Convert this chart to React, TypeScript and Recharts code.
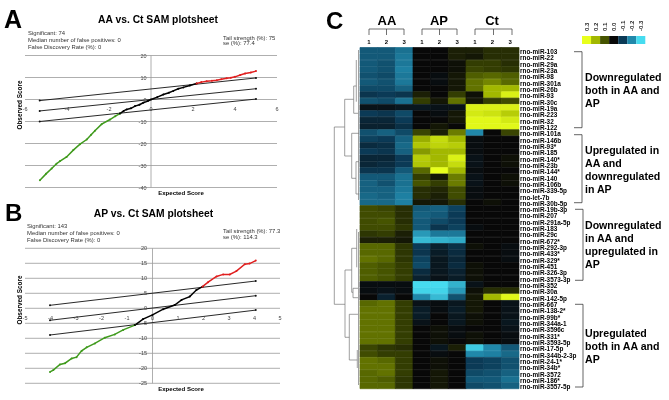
import { Bar, BarChart, CartesianGrid, Cell, Line, LineChart, ReferenceLine, XAxis, YAxis } from 'recharts'

const FONT = '"Liberation Sans", Arial, sans-serif'
type Pair = number[]

// panel A
const aaXTicks = [-6, -4, -2, 0, 2, 4, 6]
const aaYTicks = [-40, -30, -20, -10, 0, 10, 20]
const aaLow: Pair[] = [[-5.29, -36.7], [-5.0, -33.8], [-4.73, -31.4], [-4.5, -29.2], [-4.33, -28], [-4.02, -26.1], [-3.7, -23], [-3.38, -20.3], [-3.06, -18.2], [-2.85, -16], [-2.67, -14.2], [-2.35, -11.2], [-1.95, -9.1], [-1.7, -7.6], [-1.48, -6.4]]
const aaMid: Pair[] = [[-1.48, -6.4], [-1.3, -5.2], [-1.16, -4.5], [-0.95, -4], [-0.76, -3], [-0.55, -2.4], [-0.37, -1.5], [-0.15, -0.7], [0, 0], [0.3, 1.1], [0.59, 2.3], [0.85, 3.1], [1.06, 3.9], [1.3, 4.9], [1.54, 5.5], [1.85, 6.4], [2.17, 7.3]]
const aaHigh: Pair[] = [[2.17, 7.3], [2.4, 7.9], [2.65, 8.3], [2.9, 8.5], [3.13, 8.8], [3.35, 9.2], [3.6, 9.7], [3.8, 9.9], [4, 10.3], [4.25, 11.1], [4.48, 11.8], [4.75, 12.3], [5, 12.9]]
const aaCutoffs: Pair[][] = [
  [[-5.3, -0.5], [5, 9.8]],
  [[-5.3, -5.2], [5, 4.9]],
  [[-5.3, -10], [5, 0.2]],
]

// panel B
const apXTicks = [-5, -4, -3, -2, -1, 0, 1, 2, 3, 4, 5]
const apYTicks = [-25, -20, -15, -10, -5, 0, 5, 10, 15, 20]
const apLow: Pair[] = [[-4.02, -21.2], [-3.89, -20.6], [-3.63, -18.7], [-3.43, -18.3], [-3.17, -16.7], [-2.98, -16.3], [-2.78, -14.2], [-2.58, -13], [-2.26, -11.7], [-1.87, -9.8], [-1.48, -8.7], [-1.15, -7.2], [-0.69, -5.6]]
const apMid: Pair[] = [[-0.69, -5.6], [-0.37, -3.6], [0, -2.2], [0.42, -0.3], [0.87, 1.1], [1.14, 2.8], [1.46, 3.9], [1.72, 6.1], [1.96, 7.2]]
const apHigh: Pair[] = [[1.96, 7.2], [2.18, 8.7], [2.51, 10.6], [2.77, 11.3], [3.03, 11.3], [3.29, 12.4], [3.62, 14.7], [3.81, 14.9], [4.05, 15.9]]
const apCutoffs: Pair[][] = [
  [[-4.02, 1], [4.05, 9.1]],
  [[-4.02, -4], [4.05, 4.2]],
  [[-4.02, -8.9], [4.05, -0.6]],
]

// panel C
const mirNames = [
  'rno-miR-103', 'rno-miR-22', 'rno-miR-29a', 'rno-miR-23a', 'rno-miR-98', 'rno-miR-301a', 'rno-miR-26b', 'rno-miR-93', 'rno-miR-30c', 'rno-miR-19a', 'rno-miR-223', 'rno-miR-32', 'rno-miR-122',
  'rno-miR-101a', 'rno-miR-146b', 'rno-miR-93*', 'rno-miR-185', 'rno-miR-140*', 'rno-miR-23b', 'rno-miR-144*', 'rno-miR-140', 'rno-miR-106b', 'rno-miR-339-5p', 'rno-let-7b', 'rno-miR-30b-5p',
  'rno-miR-19b-3p', 'rno-miR-207', 'rno-miR-291a-5p', 'rno-miR-183', 'rno-miR-29c', 'rno-miR-672*', 'rno-miR-292-3p', 'rno-miR-433*', 'rno-miR-329*', 'rno-miR-451', 'rno-miR-326-3p', 'rno-miR-3573-3p',
  'rno-miR-352', 'rno-miR-30a', 'rno-miR-142-5p',
  'rno-miR-667', 'rno-miR-138-2*', 'rno-miR-99b*', 'rno-miR-344a-1', 'rno-miR-3596c', 'rno-miR-331*', 'rno-miR-3593-5p', 'rno-miR-17-5p', 'rno-miR-344b-2-3p', 'rno-miR-24-1*', 'rno-miR-34b*', 'rno-miR-3572', 'rno-miR-186*', 'rno-miR-3557-5p',
]
const aaHeat = [
  [-0.14, -0.14, -0.17], [-0.14, -0.14, -0.18], [-0.14, -0.13, -0.18], [-0.14, -0.13, -0.19], [-0.13, -0.12, -0.18], [-0.14, -0.13, -0.18], [-0.12, -0.12, -0.15], [-0.09, -0.1, -0.09], [-0.13, -0.12, -0.17], [-0.02, -0.02, -0.03], [-0.1, -0.09, -0.12], [-0.06, -0.06, -0.1], [-0.05, -0.05, -0.08],
  [-0.13, -0.15, -0.12], [-0.11, -0.1, -0.15], [-0.07, -0.08, -0.16], [-0.1, -0.09, -0.15], [-0.06, -0.06, -0.1], [-0.06, -0.07, -0.1], [-0.09, -0.09, -0.14], [-0.14, -0.14, -0.17], [-0.15, -0.13, -0.17], [-0.15, -0.15, -0.18], [-0.16, -0.15, -0.19], [-0.16, -0.16, -0.19],
  [0.09, 0.08, 0.05], [0.09, 0.09, 0.05], [0.09, 0.1, 0.05], [0.09, 0.09, 0.06], [0.06, 0.07, 0.03], [0.03, 0.03, 0.02], [0.12, 0.12, 0.06], [0.12, 0.12, 0.06], [0.13, 0.12, 0.06], [0.11, 0.1, 0.07], [0.11, 0.1, 0.07], [0.11, 0.1, 0.07],
  [-0.01, -0.01, -0.01], [-0.01, -0.02, -0.01], [0, -0.05, 0],
  [0.12, 0.13, 0.07], [0.13, 0.13, 0.07], [0.13, 0.13, 0.07], [0.13, 0.13, 0.07], [0.13, 0.13, 0.07], [0.13, 0.13, 0.07], [0.13, 0.13, 0.07], [0.08, 0.06, 0.05], [0.09, 0.07, 0.07], [0.13, 0.12, 0.07], [0.13, 0.13, 0.07], [0.12, 0.13, 0.07], [0.12, 0.11, 0.06], [0.12, 0.12, 0.06],
]
const apHeat = [
  [0, 0, 0.03], [0, 0, 0.03], [0, 0, 0.01], [0, 0, 0.01], [0, -0.01, 0.02], [0, -0.01, 0.02], [0, 0, 0.02], [0.03, 0, 0.07], [0.07, 0.02, 0.13], [-0.03, -0.02, -0.02], [0, -0.01, 0.02], [0, 0, 0.02], [0, 0.02, 0],
  [0.08, 0.03, 0.14], [0.19, 0.25, 0.2], [0.22, 0.24, 0.23], [0.17, 0.2, 0.2], [0.23, 0.2, 0.28], [0.22, 0.2, 0.25], [0.12, 0.3, 0.2], [0.07, 0.02, 0.14], [0.1, 0.07, 0.14], [0.05, 0.04, 0.09], [0.05, 0.03, 0.09], [0.02, 0.02, 0.05],
  [-0.14, -0.15, -0.11], [-0.15, -0.14, -0.1], [-0.14, -0.12, -0.1], [-0.14, -0.09, -0.11], [-0.22, -0.18, -0.18], [-0.26, -0.25, -0.24], [-0.1, -0.05, -0.08], [-0.09, -0.04, -0.07], [-0.11, -0.03, -0.06], [-0.12, -0.03, -0.07], [-0.07, -0.03, -0.05], [-0.05, -0.02, -0.04],
  [-0.3, -0.3, -0.25], [-0.29, -0.29, -0.22], [-0.2, -0.26, -0.13],
  [-0.02, -0.01, -0.03], [-0.04, -0.01, -0.04], [-0.04, 0, -0.03], [-0.02, 0, -0.03], [0, 0.01, -0.01], [0, 0.01, -0.01], [0, 0.01, 0], [0, -0.03, 0.03], [0, -0.01, 0], [0, 0.01, 0], [0, 0.01, 0], [0, 0.02, 0], [0, 0.02, 0], [0, 0.02, 0],
]
const ctHeat = [
  [0.03, 0.05, 0.05], [0.02, 0.05, 0.05], [0.07, 0.07, 0.05], [0.08, 0.07, 0.06], [0.11, 0.12, 0.11], [0.13, 0.15, 0.12], [0.13, 0.2, 0.2], [0.01, 0.2, 0.28], [0.02, 0.07, 0.09], [0.28, 0.28, 0.28], [0.27, 0.26, 0.23], [0.29, 0.29, 0.27], [0.29, 0.29, 0.29],
  [-0.2, 0, 0.08], [-0.01, 0, 0], [-0.01, 0, 0], [-0.01, 0, 0], [-0.02, 0, 0.01], [-0.02, 0, 0.01], [-0.01, 0, 0], [-0.02, 0, 0.01], [-0.02, 0, 0.01], [-0.01, 0, 0], [-0.01, 0, 0], [0, 0.01, 0],
  [0, 0, 0], [0, 0, 0], [0, 0, 0], [-0.01, 0, 0], [0, 0, 0], [0, 0, 0], [0.01, 0, -0.01], [0, 0, -0.01], [0, 0, -0.01], [0.01, 0, 0], [0.01, 0, 0], [0.01, 0, 0],
  [-0.02, 0, 0], [0.01, 0.05, 0.05], [0.02, 0.2, 0.29],
  [0.02, 0, -0.02], [0.02, 0, -0.02], [0.01, 0, -0.02], [0.01, 0, -0.03], [0, 0, -0.02], [0.01, 0, -0.01], [0.01, 0, -0.01], [-0.28, -0.2, -0.14], [-0.2, -0.19, -0.16], [-0.1, -0.11, -0.13], [-0.1, -0.11, -0.13], [-0.12, -0.13, -0.15], [-0.14, -0.14, -0.17], [-0.12, -0.13, -0.15],
]
const columnLabels = ['1', '2', '3', '1', '2', '3', '1', '2', '3']
const columnTicks = [0.5, 1.5, 2.5, 3.5, 4.5, 5.5, 6.5, 7.5, 8.5]
const legendValues = [0.3, 0.2, 0.1, 0, -0.1, -0.2, -0.3]
const legendLabels = ['0.3', '0.2', '0.1', '0.0', '-0.1', '-0.2', '-0.3']
const legendTicks = [0.5, 1.5, 2.5, 3.5, 4.5, 5.5, 6.5]
const heatStops = ['#46dcf0', '#2088aa', '#0b3a56', '#080808', '#465400', '#a2b800', '#e8ff1c']

const heatColumns = ['c0', 'c1', 'c2', 'c3', 'c4', 'c5', 'c6', 'c7', 'c8']
const legendColumns = ['c0', 'c1', 'c2', 'c3', 'c4', 'c5', 'c6']
const heatValues = mirNames.map((_, i) => [...aaHeat[i], ...apHeat[i], ...ctHeat[i]])
const heatTable = mirNames.map((name) => {
  const row: Record<string, string | number> = { name }
  heatColumns.forEach((c) => (row[c] = 1))
  return row
})
const legendRow: Record<string, string | number> = { name: 'scale' }
legendColumns.forEach((c) => (legendRow[c] = 1))

// dendrogram branches: x1, y1, x2, y2 in page pixels
const branches = [
  [334.3, 127, 334.3, 304.3], [334.3, 127, 344.7, 127], [334.3, 304.3, 345, 304.3],
  [344.7, 99.3, 344.7, 156], [344.7, 99.3, 353.7, 99.3], [344.7, 156, 351.7, 156],
  [353.7, 86, 353.7, 113.3], [353.7, 86, 356.3, 86], [353.7, 113.3, 358, 113.3], [356.3, 60, 356.3, 101.7],
  [351.7, 133.3, 351.7, 178.3], [351.7, 133.3, 359, 133.3], [351.7, 178.3, 356, 178.3], [356, 161.7, 356, 194], [356, 161.7, 359, 161.7], [356, 194, 359, 194],
  [345, 270, 345, 337.3], [345, 270, 351.7, 270], [345, 337.3, 349.3, 337.3],
  [351.7, 248.3, 351.7, 292.3], [351.7, 248.3, 356.7, 248.3], [351.7, 292.3, 353, 292.3], [356.7, 229, 356.7, 267.3], [353, 288.3, 353, 297.7], [353, 288.3, 358, 288.3], [353, 297.7, 358, 297.7],
  [349.3, 314.3, 349.3, 360], [349.3, 314.3, 358, 314.3], [349.3, 360, 357.3, 360], [357.3, 350, 357.3, 368],
  [358.5, 50, 358.5, 200], [358.5, 232, 358.5, 385],
]

const groupBrackets = [
  { x: 582, top: 51.7, bottom: 127.7 },
  { x: 582, top: 134.7, bottom: 202.7 },
  { x: 583, top: 209.3, bottom: 280.3 },
  { x: 583, top: 304.3, bottom: 387 },
]
const groupNotes = [
  { lines: ['Downregulated', 'both in AA and', 'AP'], y: 81 },
  { lines: ['Upregulated in', 'AA and', 'downregulated', 'in AP'], y: 154 },
  { lines: ['Downregulated', 'in AA and', 'upregulated in', 'AP'], y: 229 },
  { lines: ['Upregulated', 'both in AA and', 'AP'], y: 336.7 },
]
const treatmentHeads = [
  { name: 'AA', cx: 387, left: 369, right: 404 },
  { name: 'AP', cx: 439, left: 422, right: 457 },
  { name: 'Ct', cx: 492, left: 475, right: 512 },
]

function heatColor(v: number) {
  const pos = Math.max(0, Math.min(6, (v + 0.3) * 10))
  const i = Math.min(5, Math.floor(pos))
  const t = pos - i
  const ch = (hex: string, k: number) => parseInt(hex.slice(1 + k * 2, 3 + k * 2), 16)
  const mix = [0, 1, 2].map((k) => Math.round(ch(heatStops[i], k) * (1 - t) + ch(heatStops[i + 1], k) * t))
  return `rgb(${mix.join(',')})`
}

const toPoints = (pairs: Pair[]) => pairs.map(([x, y]) => ({ x, y }))

type PlotProps = {
  xTicks: number[]
  yTicks: number[]
  low: Pair[]
  mid: Pair[]
  high: Pair[]
  cutoffs: Pair[][]
  top: number
  bottom: number
  right: number
  yLabelShift: number
  xLabelShift: number
}

function SamPlot({ xTicks, yTicks, low, mid, high, cutoffs, top, bottom, right, xLabelShift, yLabelShift }: PlotProps) {
  const tickStyle = { fontFamily: FONT, fontSize: 5.5, fill: '#444' }
  const series = [
    { pts: low, color: '#3f9a1c' },
    { pts: mid, color: '#000000' },
    { pts: high, color: '#e01f1f' },
  ]
  return (
    <LineChart width={300} height={200} margin={{ top, bottom: 199 - bottom, left: 24, right: 300 - right }}>
      <CartesianGrid horizontal vertical={false} stroke="#9a9a9a" strokeWidth={0.8} />
      <XAxis
        type="number"
        dataKey="x"
        domain={[xTicks[0], xTicks[xTicks.length - 1]]}
        ticks={xTicks}
        height={1}
        axisLine={false}
        tickLine={false}
        tickSize={0}
        tickMargin={0}
        interval={0}
        tick={(p: any) => (
          <text x={p.x} y={p.y + xLabelShift} textAnchor="middle" {...tickStyle}>
            {p.payload.value}
          </text>
        )}
      />
      <YAxis
        type="number"
        dataKey="y"
        domain={[yTicks[0], yTicks[yTicks.length - 1]]}
        ticks={yTicks}
        width={1}
        axisLine={false}
        tickLine={false}
        tickSize={0}
        tickMargin={0}
        interval={0}
        tick={(p: any) => (
          <text x={p.x + yLabelShift} y={p.y + 2} textAnchor="end" {...tickStyle}>
            {p.payload.value}
          </text>
        )}
      />
      <ReferenceLine x={0} stroke="#9a9a9a" strokeWidth={0.8} />
      {cutoffs.map((c, i) => (
        <Line
          key={i}
          data={toPoints(c)}
          dataKey="y"
          stroke="#111"
          strokeWidth={0.9}
          dot={{ r: 1, fill: '#111', stroke: 'none' }}
          isAnimationActive={false}
        />
      ))}
      {series.map((s) => (
        <Line
          key={s.color}
          data={toPoints(s.pts)}
          dataKey="y"
          stroke={s.color}
          strokeWidth={1.5}
          dot={{ r: 1, fill: s.color, stroke: 'none' }}
          isAnimationActive={false}
        />
      ))}
    </LineChart>
  )
}

function Heatmap() {
  return (
    <BarChart
      width={669}
      height={400}
      layout="vertical"
      data={heatTable}
      barCategoryGap={0}
      margin={{ top: 46.5, bottom: 11, left: 360, right: 149 }}
    >
      <XAxis
        type="number"
        orientation="top"
        domain={[0, 9]}
        ticks={columnTicks}
        height={1}
        axisLine={false}
        tickLine={false}
        tickSize={0}
        tickMargin={0}
        interval={0}
        tick={(p: any) => (
          <text x={p.x} y={p.y - 4} textAnchor="middle" fontFamily={FONT} fontSize={6} fontWeight="bold" fill="#000">
            {columnLabels[columnTicks.indexOf(p.payload.value)]}
          </text>
        )}
      />
      <YAxis
        type="category"
        dataKey="name"
        orientation="right"
        width={1}
        axisLine={false}
        tickLine={false}
        tickSize={0}
        tickMargin={0}
        interval={0}
        tick={(p: any) => (
          <text x={p.x + 1} y={p.y + 3.4} fontFamily={FONT} fontSize={6.4} fontWeight="bold" fill="#000">
            {p.payload.value}
          </text>
        )}
      />
      {heatColumns.map((c, col) => (
        <Bar key={c} dataKey={c} stackId="heat" isAnimationActive={false}>
          {heatValues.map((row, r) => (
            <Cell key={r} fill={heatColor(row[col])} stroke={heatColor(row[col])} strokeWidth={0.7} />
          ))}
        </Bar>
      ))}
    </BarChart>
  )
}

function ScaleBar() {
  return (
    <BarChart
      width={90}
      height={50}
      layout="vertical"
      data={[legendRow]}
      barCategoryGap={0}
      margin={{ top: 35, bottom: 5.7, left: 10, right: 16.7 }}
    >
      <XAxis
        type="number"
        orientation="top"
        domain={[0, 7]}
        ticks={legendTicks}
        height={1}
        axisLine={false}
        tickLine={false}
        tickSize={0}
        tickMargin={0}
        interval={0}
        tick={(p: any) => (
          <text
            x={p.x + 2}
            y={p.y - 5}
            transform={`rotate(-90 ${p.x + 2} ${p.y - 5})`}
            fontFamily={FONT}
            fontSize={6}
            fontWeight="bold"
            fill="#222"
          >
            {legendLabels[legendTicks.indexOf(p.payload.value)]}
          </text>
        )}
      />
      <YAxis type="category" dataKey="name" width={0} hide />
      {legendColumns.map((c, i) => (
        <Bar key={c} dataKey={c} stackId="scale" isAnimationActive={false} fill={heatColor(legendValues[i])} />
      ))}
    </BarChart>
  )
}

function Annotations() {
  const head = { fontFamily: FONT, fontWeight: 'bold', fill: '#000' } as const
  const info = { fontFamily: FONT, fontSize: 5.9, fill: '#333' } as const
  return (
    <svg width={669} height={400} style={{ position: 'absolute', left: 0, top: 0 }}>
      <text x={4} y={28} fontSize={25} {...head}>A</text>
      <text x={5} y={221} fontSize={24} {...head}>B</text>
      <text x={326} y={29} fontSize={24} {...head}>C</text>

      <text x={158} y={23} fontSize={10.3} textAnchor="middle" {...head}>AA vs. Ct SAM plotsheet</text>
      <text x={153.5} y={217} fontSize={10.3} textAnchor="middle" {...head}>AP vs. Ct SAM plotsheet</text>

      <text x={28} y={35.3} {...info}>Significant: 74</text>
      <text x={28} y={42} {...info}>Median number of false positives: 0</text>
      <text x={28} y={49} {...info}>False Discovery Rate (%): 0</text>
      <text x={223} y={39.5} {...info}>Tail strength (%): 75</text>
      <text x={223} y={45} {...info}>se (%): 77.4</text>

      <text x={27} y={228.3} {...info}>Significant: 143</text>
      <text x={27} y={235} {...info}>Median number of false positives: 0</text>
      <text x={27} y={242} {...info}>False Discovery Rate (%): 0</text>
      <text x={223} y={233.3} {...info}>Tail strength (%): 77.3</text>
      <text x={223} y={239.3} {...info}>se (%): 114.3</text>

      <text x={181} y={195} fontSize={6.1} textAnchor="middle" {...head}>Expected Score</text>
      <text x={181} y={390.5} fontSize={6.1} textAnchor="middle" {...head}>Expected Score</text>
      <text transform="translate(22 105) rotate(-90)" fontSize={6.4} textAnchor="middle" {...head}>Observed Score</text>
      <text transform="translate(22 300) rotate(-90)" fontSize={6.4} textAnchor="middle" {...head}>Observed Score</text>

      {treatmentHeads.map((t) => (
        <g key={t.name}>
          <text x={t.cx} y={25} fontSize={13} textAnchor="middle" {...head}>{t.name}</text>
          <path d={`M${t.left} 35V29H${t.right}V35M${(t.left + t.right) / 2} 29V35`} fill="none" stroke="#333" strokeWidth={0.7} />
        </g>
      ))}

      {branches.map((b, i) => (
        <line key={i} x1={b[0]} y1={b[1]} x2={b[2]} y2={b[3]} stroke="#777" strokeWidth={0.7} />
      ))}

      {groupBrackets.map((b, i) => (
        <path key={i} d={`M${b.x - 8} ${b.top}H${b.x}V${b.bottom}H${b.x - 8}`} fill="none" stroke="#222" strokeWidth={0.7} />
      ))}
      {groupNotes.map((g) =>
        g.lines.map((line, i) => (
          <text key={line + g.y} x={585} y={g.y + i * 13} fontSize={10.6} {...head}>{line}</text>
        )),
      )}
    </svg>
  )
}

export default function App() {
  const layer = { position: 'absolute', left: 0, top: 0 } as const
  return (
    <div style={{ position: 'absolute', left: 0, top: 0, width: 669, height: 400, background: '#fff', overflow: 'hidden', filter: 'blur(0.35px)' }}>
      <div style={layer}>
        <SamPlot
          xTicks={aaXTicks}
          yTicks={aaYTicks}
          low={aaLow}
          mid={aaMid}
          high={aaHigh}
          cutoffs={aaCutoffs}
          top={55.5}
          bottom={187.5}
          right={277}
          xLabelShift={-76.5}
          yLabelShift={121.5}
        />
      </div>
      <div style={{ ...layer, top: 195 }}>
        <SamPlot
          xTicks={apXTicks}
          yTicks={apYTicks}
          low={apLow}
          mid={apMid}
          high={apHigh}
          cutoffs={apCutoffs}
          top={53.3}
          bottom={188.3}
          right={280}
          xLabelShift={-63.5}
          yLabelShift={122}
        />
      </div>
      <div style={layer}>
        <Heatmap />
      </div>
      <div style={{ ...layer, left: 572 }}>
        <ScaleBar />
      </div>
      <Annotations />
    </div>
  )
}
